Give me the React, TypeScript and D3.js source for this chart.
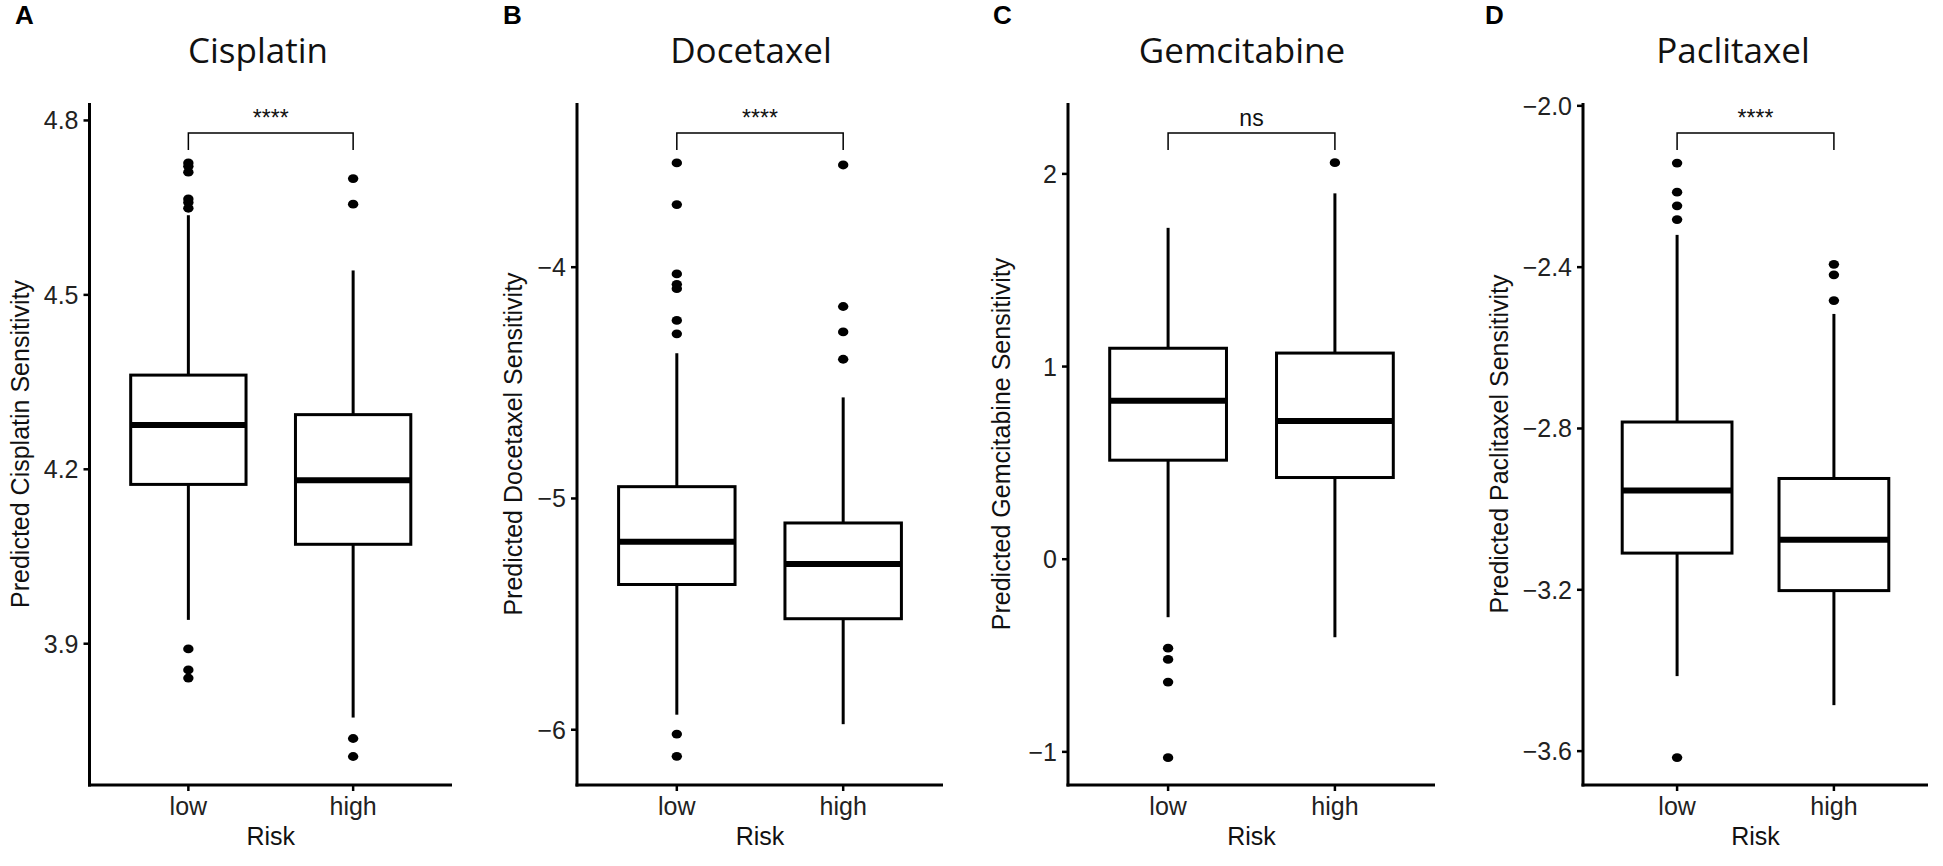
import React from "react";
import * as d3 from "d3";

// ---- data ----
const riskGroups = ["low", "high"];
const drugNames = ["Cisplatin", "Docetaxel", "Gemcitabine", "Paclitaxel"];
const panelLetters = ["A", "B", "C", "D"];
const significance = ["****", "****", "ns", "****"];

// box stats: [lower whisker, Q1, median, Q3, upper whisker]
const cisplatinLowBox = [3.941, 4.174, 4.276, 4.362, 4.637];
const cisplatinHighBox = [3.773, 4.071, 4.181, 4.294, 4.542];
const cisplatinLowOut = [4.727, 4.721, 4.711, 4.665, 4.659, 4.649, 3.891, 3.855, 3.841];
const cisplatinHighOut = [4.7, 4.656, 3.737, 3.706];

const docetaxelLowBox = [-5.935, -5.372, -5.187, -4.949, -4.372];
const docetaxelHighBox = [-5.976, -5.52, -5.283, -5.106, -4.563];
const docetaxelLowOut = [-3.549, -3.729, -4.029, -4.074, -4.093, -4.23, -4.288, -6.019, -6.115];
const docetaxelHighOut = [-3.558, -4.17, -4.28, -4.398];

const gemcitabineLowBox = [-0.301, 0.514, 0.822, 1.095, 1.72];
const gemcitabineHighBox = [-0.405, 0.424, 0.718, 1.07, 1.899];
const gemcitabineLowOut = [-0.462, -0.52, -0.638, -1.03];
const gemcitabineHighOut = [2.058];

const paclitaxelLowBox = [-3.414, -3.109, -2.954, -2.784, -2.32];
const paclitaxelHighBox = [-3.486, -3.202, -3.076, -2.924, -2.516];
const paclitaxelLowOut = [-2.142, -2.214, -2.248, -2.282, -3.616];
const paclitaxelHighOut = [-2.393, -2.419, -2.483];

const cisplatinTicks = [3.9, 4.2, 4.5, 4.8];
const docetaxelTicks = [-6, -5, -4];
const gemcitabineTicks = [-1, 0, 1, 2];
const paclitaxelTicks = [-3.6, -3.2, -2.8, -2.4, -2.0];

const cisplatinDomain = [3.657, 4.83];
const docetaxelDomain = [-6.239, -3.29];
const gemcitabineDomain = [-1.172, 2.368];
const paclitaxelDomain = [-3.684, -1.993];

const boxes = [
  [cisplatinLowBox, cisplatinHighBox],
  [docetaxelLowBox, docetaxelHighBox],
  [gemcitabineLowBox, gemcitabineHighBox],
  [paclitaxelLowBox, paclitaxelHighBox],
];
const outliers = [
  [cisplatinLowOut, cisplatinHighOut],
  [docetaxelLowOut, docetaxelHighOut],
  [gemcitabineLowOut, gemcitabineHighOut],
  [paclitaxelLowOut, paclitaxelHighOut],
];
const ticks = [cisplatinTicks, docetaxelTicks, gemcitabineTicks, paclitaxelTicks];
const domains = [cisplatinDomain, docetaxelDomain, gemcitabineDomain, paclitaxelDomain];
const tickFormats = [d3.format(".1f"), d3.format("d"), d3.format("d"), d3.format(".1f")];

// ---- layout ----
const W = 1943;
const H = 866;
const plotTop = 103;
const plotBottom = 785;
const layout = [
  { axisX: 89.5, right: 452, letterX: 15, titleX: 258, yTitleX: 29 },
  { axisX: 577, right: 943, letterX: 503, titleX: 751, yTitleX: 522 },
  { axisX: 1068, right: 1435, letterX: 993, titleX: 1242, yTitleX: 1010 },
  { axisX: 1583, right: 1928, letterX: 1485, titleX: 1733, yTitleX: 1508 },
];

const FONT = "'Liberation Sans', Arial, Helvetica, sans-serif";
const TITLE_FONT = "'Open Sans', 'Liberation Sans', sans-serif";

function fmt(v: number, f: (n: number) => string) {
  return f(v).replace("-", "\u2212");
}

function Panel({ i }: { i: number }) {
  const L = layout[i];
  const x = d3.scalePoint<string>().domain(riskGroups).range([L.axisX, L.right]).padding(0.6);
  const y = d3.scaleLinear().domain(domains[i]).range([plotBottom, plotTop]);
  const step = x.step();
  const bw = step * 0.7;
  const bracketY = plotTop + 30;
  const xl = x("low")!;
  const xh = x("high")!;
  return (
    <g>
      <text x={L.letterX} y={24} fontFamily={FONT} fontWeight="bold" fontSize={26} fill="#000">
        {panelLetters[i]}
      </text>
      <text x={L.titleX} y={63} fontFamily={TITLE_FONT} fontSize={35} textAnchor="middle" fill="#111">
        {drugNames[i]}
      </text>
      <text
        transform={`translate(${L.yTitleX},${(plotTop + plotBottom) / 2}) rotate(-90)`}
        fontFamily={FONT}
        fontSize={25}
        textAnchor="middle"
        fill="#111"
      >
        {`Predicted ${drugNames[i]} Sensitivity`}
      </text>
      {/* axes */}
      <line x1={L.axisX} x2={L.axisX} y1={plotTop} y2={plotBottom + 1.5} stroke="#000" strokeWidth={3} />
      <line x1={L.axisX - 1.5} x2={L.right} y1={plotBottom} y2={plotBottom} stroke="#000" strokeWidth={3} />
      {ticks[i].map((t) => (
        <g key={t}>
          <line x1={L.axisX - 6} x2={L.axisX} y1={y(t)} y2={y(t)} stroke="#000" strokeWidth={2.5} />
          <text x={L.axisX - 11} y={y(t) + 9} fontFamily={FONT} fontSize={25} textAnchor="end" fill="#222">
            {fmt(t, tickFormats[i])}
          </text>
        </g>
      ))}
      {riskGroups.map((g) => (
        <g key={g}>
          <line x1={x(g)} x2={x(g)} y1={plotBottom} y2={plotBottom + 6} stroke="#000" strokeWidth={2.5} />
          <text x={x(g)} y={815} fontFamily={FONT} fontSize={25} textAnchor="middle" fill="#222">
            {g}
          </text>
        </g>
      ))}
      <text x={(L.axisX + L.right) / 2} y={845} fontFamily={FONT} fontSize={25} textAnchor="middle" fill="#111">
        Risk
      </text>
      {/* boxes */}
      {riskGroups.map((g, gi) => {
        const [wl, q1, med, q3, wh] = boxes[i][gi];
        const cx = x(g)!;
        return (
          <g key={g}>
            <line x1={cx} x2={cx} y1={y(q3)} y2={y(wh)} stroke="#000" strokeWidth={3} />
            <line x1={cx} x2={cx} y1={y(q1)} y2={y(wl)} stroke="#000" strokeWidth={3} />
            <rect
              x={cx - bw / 2}
              y={y(q3)}
              width={bw}
              height={y(q1) - y(q3)}
              fill="#fff"
              stroke="#000"
              strokeWidth={3}
            />
            <line x1={cx - bw / 2} x2={cx + bw / 2} y1={y(med)} y2={y(med)} stroke="#000" strokeWidth={6} />
            {outliers[i][gi].map((o, k) => (
              <ellipse key={k} cx={cx} cy={y(o)} rx={5.2} ry={4.4} fill="#000" />
            ))}
          </g>
        );
      })}
      {/* bracket */}
      <path
        d={`M${xl},${bracketY + 17}V${bracketY}H${xh}V${bracketY + 17}`}
        fill="none"
        stroke="#000"
        strokeWidth={1.5}
      />
      <text x={(xl + xh) / 2} y={bracketY - 7} fontFamily={FONT} fontSize={23} textAnchor="middle" fill="#111">
        {significance[i]}
      </text>
    </g>
  );
}

export default function App() {
  return (
    <div style={{ position: "fixed", left: 0, top: 0 }}>
      <svg width={W} height={H} style={{ display: "block", background: "#fff" }}>
        <rect width={W} height={H} fill="#fff" />
        {drugNames.map((_, i) => (
          <Panel key={i} i={i} />
        ))}
      </svg>
    </div>
  );
}
